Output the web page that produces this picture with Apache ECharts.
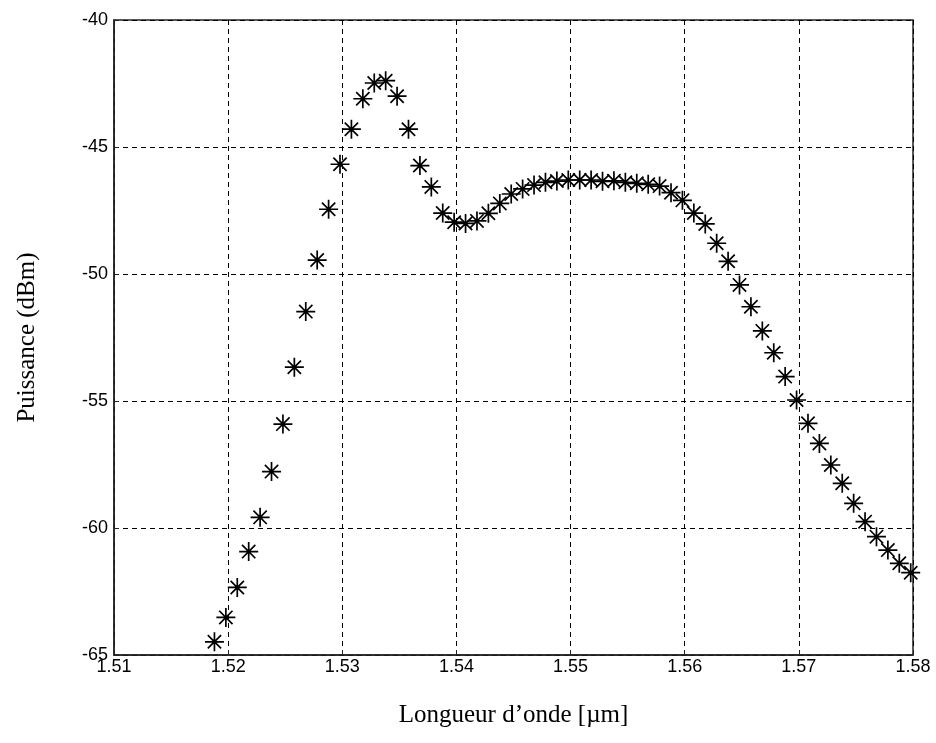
<!DOCTYPE html>
<html>
<head>
<meta charset="utf-8">
<script src="https://cdn.jsdelivr.net/npm/echarts@6/dist/echarts.min.js"></script>
<style>
  html, body { margin: 0; padding: 0; background: #fff; }
  #chart { width: 936px; height: 743px; }
</style>
</head>
<body>
<div id="chart"></div>
<script>
// longueur d'onde (µm)
var wavelength = [
    1.5188, 1.5198, 1.5208, 1.5218, 1.5228, 1.5238, 1.5248, 1.5258, 1.5268, 1.5278,
    1.5288, 1.5298, 1.5308, 1.5318, 1.5328, 1.5338, 1.5348, 1.5358, 1.5368, 1.5378,
    1.5388, 1.5398, 1.5408, 1.5418, 1.5428, 1.5438, 1.5448, 1.5458, 1.5468, 1.5478,
    1.5488, 1.5498, 1.5508, 1.5518, 1.5528, 1.5538, 1.5548, 1.5558, 1.5568, 1.5578,
    1.5588, 1.5598, 1.5608, 1.5618, 1.5628, 1.5638, 1.5648, 1.5658, 1.5668, 1.5678,
    1.5688, 1.5698, 1.5708, 1.5718, 1.5728, 1.5738, 1.5748, 1.5758, 1.5768, 1.5778,
    1.5788, 1.5798
];
// puissance (dBm)
var power = [
    -64.48, -63.52, -62.34, -60.93, -59.58, -57.78, -55.91, -53.67, -51.48, -49.45,
    -47.45, -45.68, -44.30, -43.10, -42.48, -42.39, -43.00, -44.30, -45.73, -46.57,
    -47.60, -47.96, -48.01, -47.91, -47.61, -47.22, -46.85, -46.65, -46.50, -46.39,
    -46.34, -46.30, -46.30, -46.30, -46.35, -46.33, -46.39, -46.43, -46.47, -46.54,
    -46.80, -47.10, -47.60, -48.03, -48.79, -49.50, -50.43, -51.29, -52.24, -53.10,
    -54.04, -54.96, -55.88, -56.67, -57.52, -58.24, -59.03, -59.75, -60.34, -60.87,
    -61.39, -61.76
];

var xTitle = 'Longueur d\u2019onde [\u00b5m]';
var yTitle = 'Puissance (dBm)';

var points = [];
for (var i = 0; i < wavelength.length; i++) {
    points.push([wavelength[i], power[i]]);
}

var tickFont = "'Liberation Sans Narrow', 'Liberation Sans', Arial, sans-serif";
var titleFont = "'Liberation Serif', 'Times New Roman', serif";

var gridLine = { show: true, lineStyle: { color: '#000', width: 1, type: [5, 4] } };

var chart = echarts.init(document.getElementById('chart'));
var option = {
    animation: false,
    backgroundColor: '#fff',
    grid: { left: 114, right: 23, top: 20, bottom: 88, show: true, borderColor: '#222', borderWidth: 1.5 },
    xAxis: {
        type: 'value',
        min: 1.51, max: 1.58, interval: 0.01,
        name: xTitle, nameLocation: 'middle', nameGap: 48,
        nameTextStyle: { fontFamily: titleFont, fontSize: 25, color: '#000' },
        axisLine: { show: true, lineStyle: { color: '#222', width: 1.5 } },
        axisTick: { show: true, inside: true, length: 5, lineStyle: { color: '#222' } },
        axisLabel: {
            fontFamily: tickFont, fontSize: 18, color: '#000', margin: 3,
            formatter: function(v) { return v.toFixed(2); }
        },
        splitLine: gridLine
    },
    yAxis: {
        type: 'value',
        min: -65, max: -40, interval: 5,
        name: yTitle, nameLocation: 'middle', nameGap: 74, nameRotate: 90,
        nameTextStyle: { fontFamily: titleFont, fontSize: 25, color: '#000' },
        axisLine: { show: true, lineStyle: { color: '#222', width: 1.5 } },
        axisTick: { show: true, inside: true, length: 5, lineStyle: { color: '#222' } },
        axisLabel: { fontFamily: tickFont, fontSize: 18, color: '#000', margin: 6 },
        splitLine: gridLine
    },
    series: [{
        type: 'scatter',
        data: points,
        symbol: 'path://M-1,0L1,0M0,-1L0,1M-0.7,-0.7L0.7,0.7M-0.7,0.7L0.7,-0.7',
        symbolSize: 19,
        symbolKeepAspect: true,
        itemStyle: { color: 'none', borderColor: '#000', borderWidth: 1.7, opacity: 1 }
    }]
};
chart.setOption(option);
</script>
</body>
</html>
